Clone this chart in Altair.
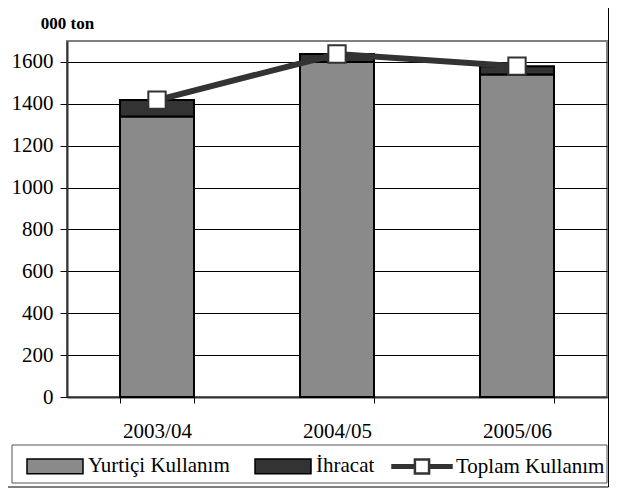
import altair as alt
import pandas as pd

# ---- data ----
years = ["2003/04", "2004/05", "2005/06"]
yurtici = [1340, 1600, 1540]
ihracat = [78, 38, 40]
toplam = [1418, 1638, 1580]
series_names = ["Yurtiçi Kullanım", "İhracat"]
line_name = "Toplam Kullanım"
y_ticks = [0, 200, 400, 600, 800, 1000, 1200, 1400, 1600]

FONT = "Times New Roman, serif"
GRAY_FILL = "#8a8a8a"
DARK = "#333333"

rows = []
for i, yr in enumerate(years):
    rows.append({"yil": yr, "seri": series_names[0], "deger": yurtici[i], "sira": 0})
    rows.append({"yil": yr, "seri": series_names[1], "deger": ihracat[i], "sira": 1})
bars_df = pd.DataFrame(rows)
line_df = pd.DataFrame({"yil": years, "toplam": toplam, "seri": [line_name] * len(years)})

x_enc = alt.X(
    "yil:N",
    sort=years,
    scale=alt.Scale(paddingInner=0.589, paddingOuter=0.2945),
    axis=alt.Axis(
        title=None, labelAngle=0, tickBand="extent", tickSize=6, tickColor="black",
        domainColor=DARK, domainWidth=2, labelFont=FONT, labelFontSize=21,
        labelColor="black", labelPadding=17, grid=False,
    ),
)
y_scale = alt.Scale(domain=[0, 1700], nice=False)
y_axis = alt.Axis(
    values=y_ticks, format="d", grid=True, gridColor="black", gridWidth=1,
    domainColor=DARK, domainWidth=2, tickColor="black", tickSize=7,
    labelFont=FONT, labelFontSize=21, labelColor="black", labelPadding=7,
    title="000 ton", titleAngle=0, titleX=0, titleY=-13, titleAlign="center",
    titleBaseline="alphabetic", titleFont=FONT, titleFontSize=17,
    titleFontWeight="bold", titleColor="black",
)

bars = alt.Chart(bars_df).mark_bar(stroke="black", strokeWidth=2).encode(
    x=x_enc,
    y=alt.Y("deger:Q", stack="zero", scale=y_scale, axis=y_axis),
    fill=alt.Fill(
        "seri:N",
        scale=alt.Scale(domain=series_names, range=[GRAY_FILL, DARK]),
        legend=alt.Legend(
            title=None, orient="none", legendX=-41, legendY=396, direction="horizontal",
            symbolType="M-1,-0.26H1V0.26H-1Z", symbolSize=3136,
            symbolStrokeColor="black", symbolStrokeWidth=1.5,
            labelFont=FONT, labelFontSize=21, labelColor="black", labelOffset=4,
            labelLimit=400, columnPadding=22, padding=0,
        ),
    ),
    order=alt.Order("sira:Q"),
)

line = alt.Chart(line_df).mark_line(strokeWidth=6).encode(
    x=alt.X("yil:N", sort=years),
    y=alt.Y("toplam:Q", scale=y_scale),
    stroke=alt.Stroke(
        "seri:N",
        scale=alt.Scale(domain=[line_name], range=[DARK]),
        legend=alt.Legend(
            title=None, orient="none", legendX=324, legendY=394.5,
            symbolType="M-1,-0.042H-0.24V0.042H-1Z M0.24,-0.042H1V0.042H0.24Z M-0.24,-0.24H0.24V0.24H-0.24Z",
            symbolSize=3481, symbolStrokeColor=DARK, symbolStrokeWidth=2.5,
            symbolFillColor="white",
            labelFont=FONT, labelFontSize=21, labelColor="black", labelOffset=3,
            labelLimit=400, padding=0,
        ),
    ),
)

points = alt.Chart(line_df).mark_point(
    shape="square", filled=True, fill="white", stroke=DARK, strokeWidth=2, size=300, opacity=1
).encode(
    x=alt.X("yil:N", sort=years),
    y=alt.Y("toplam:Q", scale=y_scale),
)

frame_df = pd.DataFrame({"k": [0]})
legend_box = alt.Chart(frame_df).mark_rect(fill="transparent", stroke="#555555", strokeWidth=1).encode(
    x=alt.value(-55), x2=alt.value(540), y=alt.value(404), y2=alt.value(442)
)
outer_box = alt.Chart(frame_df).mark_rect(fill="transparent", stroke="black", strokeWidth=1).encode(
    x=alt.value(-62), x2=alt.value(541.5), y=alt.value(-36), y2=alt.value(446)
)

chart = alt.layer(bars, line, points, legend_box, outer_box).resolve_legend(
    fill="independent", stroke="independent"
).properties(
    width=540, height=356,
    autosize=alt.AutoSizeParams(type="none"),
    padding={"left": 59, "top": 33, "right": 2, "bottom": 91},
).configure_view(stroke="#808080", strokeWidth=2)

chart.save("out.html", embed_options={"renderer": "svg", "actions": False})
